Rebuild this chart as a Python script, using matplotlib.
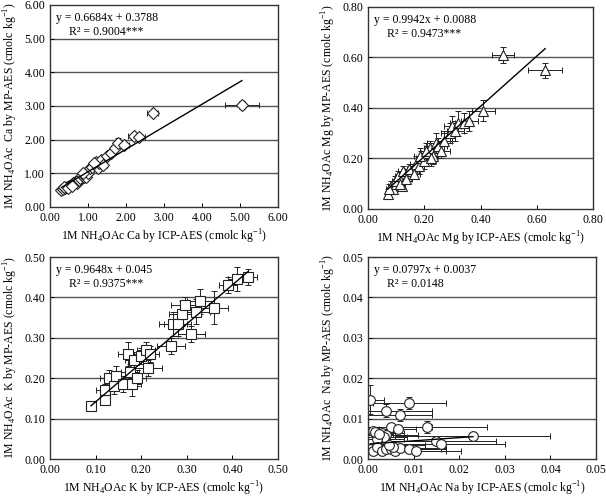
import matplotlib.pyplot as plt

plt.rcParams['font.family'] = ['Liberation Serif', 'DejaVu Serif']
plt.rcParams['mathtext.fontset'] = 'custom'
plt.rcParams['mathtext.rm'] = 'Liberation Serif'

# Ca (diamonds)
ca_x = [0.30, 0.35, 0.40, 0.45, 0.50, 0.55, 0.60, 0.65, 0.70, 0.75, 0.80, 0.85, 0.90,
        0.95, 1.00, 1.05, 1.10, 1.20, 1.25, 1.30, 1.35, 1.40, 1.50, 1.60, 1.70, 1.80,
        1.95, 2.20, 2.35, 2.70, 5.05, 0.38, 0.48, 0.58, 0.88, 1.15]
ca_y = [0.50, 0.52, 0.55, 0.60, 0.62, 0.65, 0.70, 0.75, 0.72, 0.80, 0.85, 0.95, 0.88,
        0.90, 1.00, 1.15, 1.20, 1.35, 1.15, 1.30, 1.40, 1.25, 1.50, 1.60, 1.75, 1.90,
        1.85, 2.10, 2.08, 2.78, 3.02, 0.60, 0.55, 0.62, 1.02, 1.30]
ca_xerr = [0.03, 0.03, 0.04, 0.04, 0.04, 0.05, 0.05, 0.05, 0.05, 0.05, 0.06, 0.06, 0.06,
           0.06, 0.07, 0.07, 0.07, 0.08, 0.08, 0.09, 0.09, 0.10, 0.09, 0.09, 0.10, 0.10,
           0.12, 0.15, 0.15, 0.15, 0.45, 0.04, 0.04, 0.05, 0.06, 0.08]
ca_yerr = [0.02, 0.02, 0.02, 0.03, 0.03, 0.03, 0.03, 0.03, 0.03, 0.04, 0.04, 0.04, 0.04,
           0.04, 0.04, 0.05, 0.05, 0.05, 0.05, 0.05, 0.05, 0.05, 0.06, 0.06, 0.06, 0.15,
           0.06, 0.07, 0.07, 0.06, 0.12, 0.03, 0.03, 0.03, 0.04, 0.05]

# Mg (triangles)
mg_x = [0.07, 0.08, 0.09, 0.10, 0.11, 0.12, 0.13, 0.14, 0.15, 0.16, 0.17, 0.18, 0.19,
        0.20, 0.21, 0.22, 0.23, 0.24, 0.25, 0.26, 0.27, 0.29, 0.30, 0.32, 0.34, 0.36,
        0.41, 0.48, 0.63, 0.075, 0.095, 0.105, 0.115, 0.125, 0.135, 0.145, 0.165,
        0.185, 0.205, 0.225, 0.31]
mg_y = [0.06, 0.09, 0.08, 0.10, 0.12, 0.09, 0.14, 0.13, 0.15, 0.16, 0.18, 0.17, 0.20,
        0.19, 0.22, 0.24, 0.21, 0.26, 0.25, 0.23, 0.27, 0.30, 0.33, 0.34, 0.34, 0.35,
        0.39, 0.61, 0.55, 0.08, 0.11, 0.13, 0.10, 0.15, 0.12, 0.16, 0.14, 0.21, 0.23,
        0.20, 0.31]
mg_xerr = [0.01, 0.01, 0.01, 0.01, 0.01, 0.01, 0.02, 0.02, 0.02, 0.02, 0.02, 0.02, 0.02,
           0.02, 0.02, 0.02, 0.02, 0.03, 0.03, 0.03, 0.03, 0.03, 0.03, 0.03, 0.03, 0.03,
           0.04, 0.04, 0.06, 0.01, 0.01, 0.01, 0.01, 0.02, 0.02, 0.02, 0.02, 0.02, 0.02,
           0.02, 0.03]
mg_yerr = [0.02, 0.02, 0.02, 0.02, 0.02, 0.02, 0.02, 0.02, 0.02, 0.02, 0.03, 0.03, 0.03,
           0.03, 0.03, 0.03, 0.03, 0.04, 0.03, 0.03, 0.04, 0.04, 0.04, 0.05, 0.04, 0.04,
           0.04, 0.03, 0.03, 0.02, 0.02, 0.02, 0.02, 0.02, 0.02, 0.02, 0.02, 0.03, 0.03,
           0.03, 0.04]

# K (squares)
k_x = [0.09, 0.12, 0.12, 0.13, 0.14, 0.145, 0.16, 0.17, 0.175, 0.18, 0.185, 0.19, 0.20,
       0.21, 0.215, 0.22, 0.265, 0.27, 0.28, 0.29, 0.295, 0.31, 0.32, 0.33, 0.36, 0.39,
       0.41, 0.435]
k_y = [0.13, 0.145, 0.17, 0.20, 0.18, 0.205, 0.185, 0.26, 0.215, 0.185, 0.245, 0.20,
       0.255, 0.27, 0.225, 0.26, 0.28, 0.335, 0.335, 0.36, 0.38, 0.31, 0.365, 0.39, 0.375,
       0.43, 0.445, 0.45]
k_xerr = [0.01, 0.01, 0.02, 0.02, 0.02, 0.02, 0.02, 0.02, 0.02, 0.02, 0.02, 0.02, 0.02,
          0.02, 0.03, 0.02, 0.03, 0.03, 0.03, 0.03, 0.03, 0.03, 0.03, 0.03, 0.03, 0.02,
          0.02, 0.02]
k_yerr = [0.005, 0.01, 0.015, 0.02, 0.02, 0.025, 0.02, 0.03, 0.02, 0.03, 0.02, 0.02,
          0.02, 0.02, 0.02, 0.02, 0.02, 0.03, 0.03, 0.03, 0.02, 0.02, 0.03, 0.03, 0.04,
          0.02, 0.03, 0.02]

# Na (circles)
na_x = [0.0005, 0.004, 0.009, 0.007, 0.005, 0.0065, 0.013, 0.001, 0.003, 0.004, 0.0035,
        0.002, 0.023, 0.015, 0.016, 0.0005, 0.001, 0.002, 0.003, 0.004, 0.005, 0.006,
        0.007, 0.009, 0.0105, 0.0055, 0.0015, 0.0025, 0.0045]
na_y = [0.0147, 0.012, 0.0138, 0.011, 0.008, 0.0075, 0.008, 0.007, 0.0065, 0.006, 0.0055,
        0.005, 0.0058, 0.0045, 0.0038, 0.0025, 0.002, 0.003, 0.002, 0.0025, 0.0025, 0.002,
        0.0028, 0.0025, 0.002, 0.003, 0.0068, 0.0062, 0.0035]
na_xerr = [0.003, 0.010, 0.008, 0.007, 0.009, 0.004, 0.013, 0.006, 0.005, 0.007, 0.005,
           0.006, 0.017, 0.013, 0.014, 0.005, 0.003, 0.004, 0.006, 0.005, 0.011, 0.011,
           0.010, 0.008, 0.010, 0.005, 0.004, 0.003, 0.008]
na_yerr = [0.0035, 0.0015, 0.0015, 0.0015, 0.001, 0.001, 0.0015, 0.001, 0.001, 0.001,
           0.001, 0.001, 0.0005, 0.001, 0.001, 0.0005, 0.0005, 0.0005, 0.0005, 0.0005,
           0.0005, 0.0005, 0.0005, 0.0005, 0.0005, 0.0005, 0.001, 0.001, 0.0005]

panels = [
    dict(x=ca_x, y=ca_y, xe=ca_xerr, ye=ca_yerr, m='D', ms=6.5, lim=6.0, step=1.0,
         slope=0.6684, icpt=0.3788, eq='y = 0.6684x + 0.3788', r2='R² = 0.9004***',
         ylab='1M NH$_4$OAc  Ca by MP-AES (cmolc kg$^{-1}$)',
         xlab='1M NH$_4$OAc Ca by ICP-AES (cmolc kg$^{-1}$)',
         pos=[50, 5, 278, 207]),
    dict(x=mg_x, y=mg_y, xe=mg_xerr, ye=mg_yerr, m='^', ms=7, lim=0.8, step=0.2,
         slope=0.9942, icpt=0.0088, eq='y = 0.9942x + 0.0088', r2='R² = 0.9473***',
         ylab='1M NH$_4$OAc Mg by MP-AES (cmolc kg$^{-1}$)',
         xlab='1M NH$_4$OAc Mg by ICP-AES (cmolc kg$^{-1}$)',
         pos=[368, 7, 593, 209]),
    dict(x=k_x, y=k_y, xe=k_xerr, ye=k_yerr, m='s', ms=7, lim=0.5, step=0.1,
         slope=0.9648, icpt=0.045, eq='y = 0.9648x + 0.045', r2='R² = 0.9375***',
         ylab='1M NH$_4$OAc  K by MP-AES (cmolc kg$^{-1}$)',
         xlab='1M NH$_4$OAc K by ICP-AES (cmolc kg$^{-1}$)',
         pos=[50, 257, 278, 459]),
    dict(x=na_x, y=na_y, xe=na_xerr, ye=na_yerr, m='o', ms=7, lim=0.05, step=0.01,
         slope=0.0797, icpt=0.0037, eq='y = 0.0797x + 0.0037', r2='R² = 0.0148',
         ylab='1M NH$_4$OAc  Na by MP-AES (cmolc kg$^{-1}$)',
         xlab='1M NH$_4$OAc Na by ICP-AES (cmolc kg$^{-1}$)',
         pos=[368, 257, 596, 459]),
]

W, H = 606, 500
fig = plt.figure(figsize=(W / 100, H / 100), dpi=100)

for p in panels:
    l, t, r, b = p['pos']
    ax = fig.add_axes([l / W, 1 - b / H, (r - l) / W, (b - t) / H])
    nt = int(round(p['lim'] / p['step']))
    ticks = [i * p['step'] for i in range(nt + 1)]
    for tv in ticks[1:-1]:
        ax.axhline(tv, color='#555555', lw=1.0, zorder=0)
    ax.errorbar(p['x'], p['y'], xerr=p['xe'], yerr=p['ye'], fmt='none',
                ecolor='#222222', elinewidth=0.7, capsize=2.5, capthick=0.7, zorder=1)
    ax.plot(p['x'], p['y'], p['m'], ms=p['ms'], mfc='white', mec='#222222', mew=0.8,
            linestyle='none', zorder=2)
    x0, x1 = min(p['x']), max(p['x'])
    ax.plot([x0, x1], [p['slope'] * x0 + p['icpt'], p['slope'] * x1 + p['icpt']],
            color='black', lw=1.0, zorder=3)
    ax.set_xlim(0, p['lim'])
    ax.set_ylim(0, p['lim'])
    ax.set_xticks(ticks)
    ax.set_yticks(ticks)
    ax.set_xticklabels(['%.2f' % v for v in ticks], fontsize=8.5)
    ax.set_yticklabels(['%.2f' % v for v in ticks], fontsize=8.5)
    ax.tick_params(direction='in', length=3, width=0.7)
    for s in ax.spines.values():
        s.set_color('#333333')
        s.set_linewidth(1.0)
    ax.set_xlabel(p['xlab'], fontsize=8.5, labelpad=3)
    ax.set_ylabel(p['ylab'], fontsize=8.5, labelpad=3)
    ax.text(0.025, 0.935, p['eq'], transform=ax.transAxes, fontsize=8.5, va='center')
    ax.text(0.085, 0.865, p['r2'], transform=ax.transAxes, fontsize=8.5, va='center')

fig.savefig('out.png', dpi=100)
